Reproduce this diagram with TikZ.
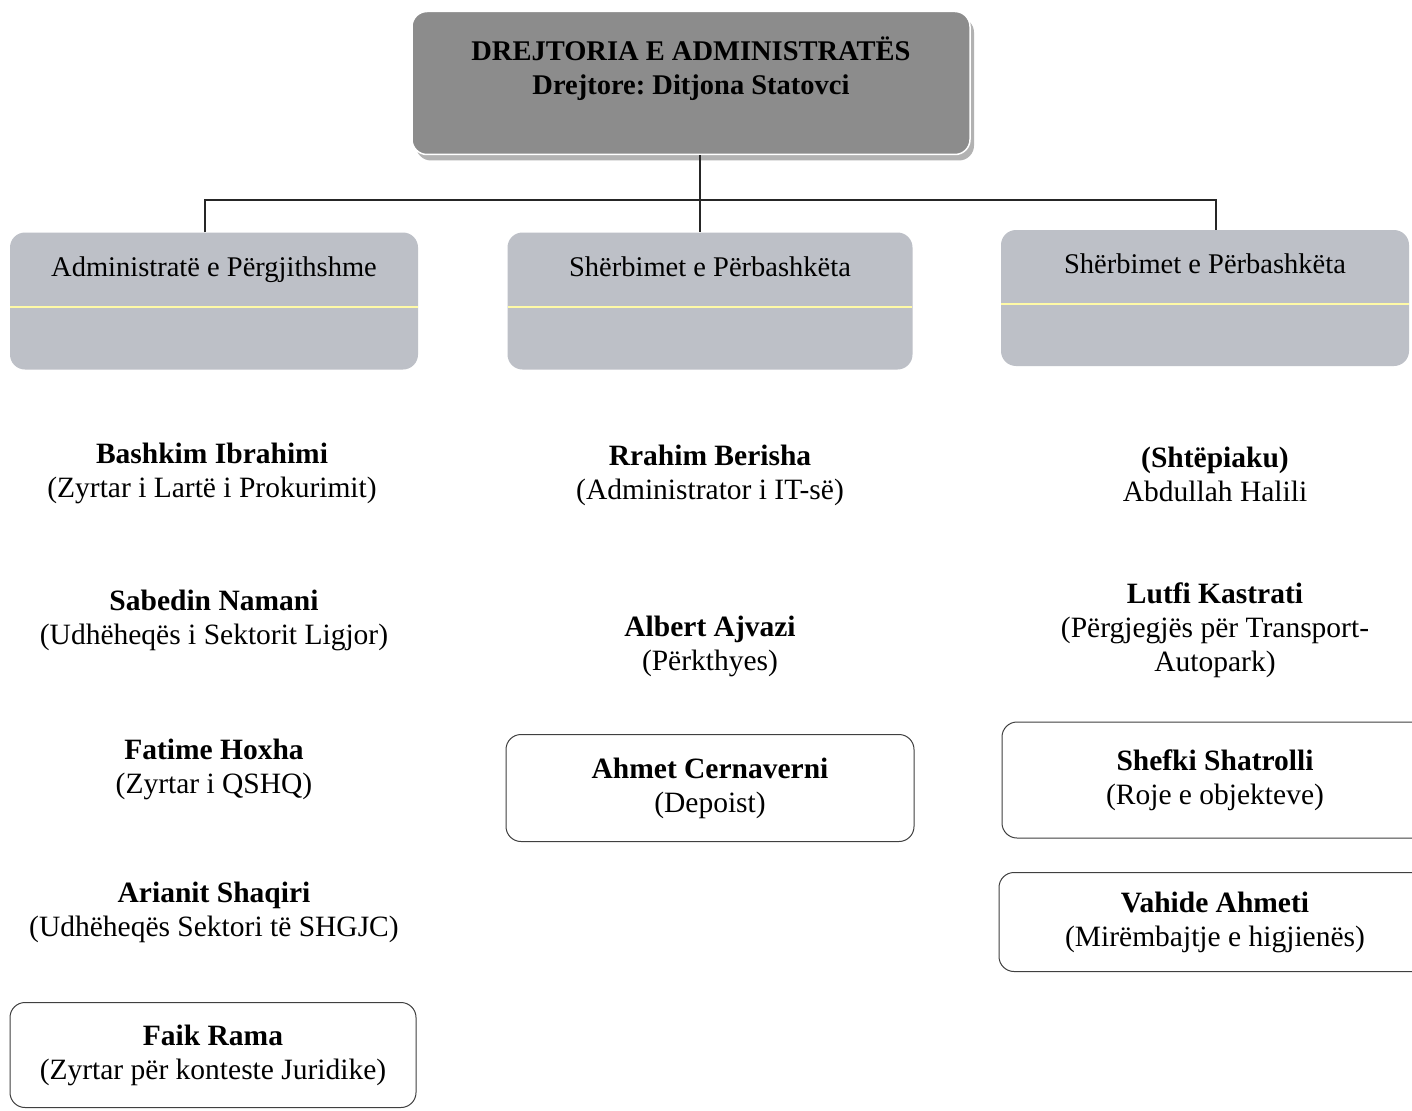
\documentclass[tikz,border=0pt]{standalone}
\usepackage{fontspec}
\setmainfont{Liberation Serif}
\frenchspacing
\usetikzlibrary{shadows}

\begin{document}
\begin{tikzpicture}[x=1pt,y=-1pt,
  headbox/.style={rectangle,rounded corners=15pt,draw=white,line width=1.5pt,fill=black!45,
    minimum width=558pt,minimum height=143pt,align=center,font=\fontsize{28.5}{34}\selectfont\bfseries,
    drop shadow={shadow xshift=4pt,shadow yshift=-6pt,fill=black!30,opacity=1}},
  unitbox/.style={rectangle,rounded corners=15pt,fill={rgb,255:red,189;green,192;blue,199},
    minimum width=408pt,minimum height=137pt,align=center,font=\fontsize{28.5}{34}\selectfont,
    path picture={\draw[yellow!35!white,line width=1.2pt]
      ([yshift=-6pt]path picture bounding box.west) -- ([yshift=-6pt]path picture bounding box.east);}},
  person/.style={align=center,font=\fontsize{29.5}{34}\selectfont},
  personbox/.style={person,draw=black!75,line width=1pt,rounded corners=15pt},
  conn/.style={draw=black!85,line width=1.2pt}
]
\useasboundingbox[fill=white] (0,0) rectangle (1412,1110);

% top
\node[headbox] (top) at (691,83) {DREJTORIA E ADMINISTRATËS\\Drejtore: Ditjona Statovci\\\mbox{}};

% units
\node[unitbox] (adm) at (214,301) {Administratë e Përgjithshme\\\mbox{}\\\mbox{}};
\node[unitbox,minimum width=405pt] (ser1) at (710,301) {Shërbimet e Përbashkëta\\\mbox{}\\\mbox{}};
\node[unitbox,minimum height=136pt] (ser2) at (1205,298) {Shërbimet e Përbashkëta\\\mbox{}\\\mbox{}};

\coordinate (busL) at (205,200);
\coordinate (busM) at (700,200);
\coordinate (busR) at (1216,200);
\draw[conn] (top.south -| busM) -- (busM |- ser1.north);
\draw[conn] (busL |- adm.north) |- (busR) -- (busR |- ser2.north);

% left column
\node[person] (bashkim) at (212,473) {\textbf{Bashkim Ibrahimi}\\(Zyrtar i Lartë i Prokurimit)};
\node[person] (sabedin) at (214,620) {\textbf{Sabedin Namani}\\(Udhëheqës i Sektorit Ligjor)};
\node[person] (fatime) at (214,769) {\textbf{Fatime Hoxha}\\(Zyrtar i QSHQ)};
\node[person] (arianit) at (214,912) {\textbf{Arianit Shaqiri}\\(Udhëheqës Sektori të SHGJC)};
\node[personbox,minimum width=406pt,minimum height=105pt] (faik) at (213,1055) {\textbf{Faik Rama}\\(Zyrtar për konteste Juridike)};

% middle column
\node[person] (rrahim) at (710,475) {\textbf{Rrahim Berisha}\\(Administrator i IT-së)};
\node[person] (albert) at (710,646) {\textbf{Albert Ajvazi}\\(Përkthyes)};
\node[personbox,minimum width=408pt,minimum height=107pt] (ahmet) at (710,788) {\textbf{Ahmet Cernaverni}\\(Depoist)};

% right column
\node[person] (abdullah) at (1215,474) {\textbf{(Shtëpiaku)}\\Abdullah Halili};
\node[person] (lutfi) at (1215,630) {\textbf{Lutfi Kastrati}\\(Përgjegjës për Transport-\\Autopark)};
\node[personbox,minimum width=426pt,minimum height=116pt] (shefki) at (1215,780) {\textbf{Shefki Shatrolli}\\(Roje e objekteve)};
\node[personbox,minimum width=432pt,minimum height=99pt] (vahide) at (1215,922) {\textbf{Vahide Ahmeti}\\(Mirëmbajtje e higjienës)};
\end{tikzpicture}
\end{document}
